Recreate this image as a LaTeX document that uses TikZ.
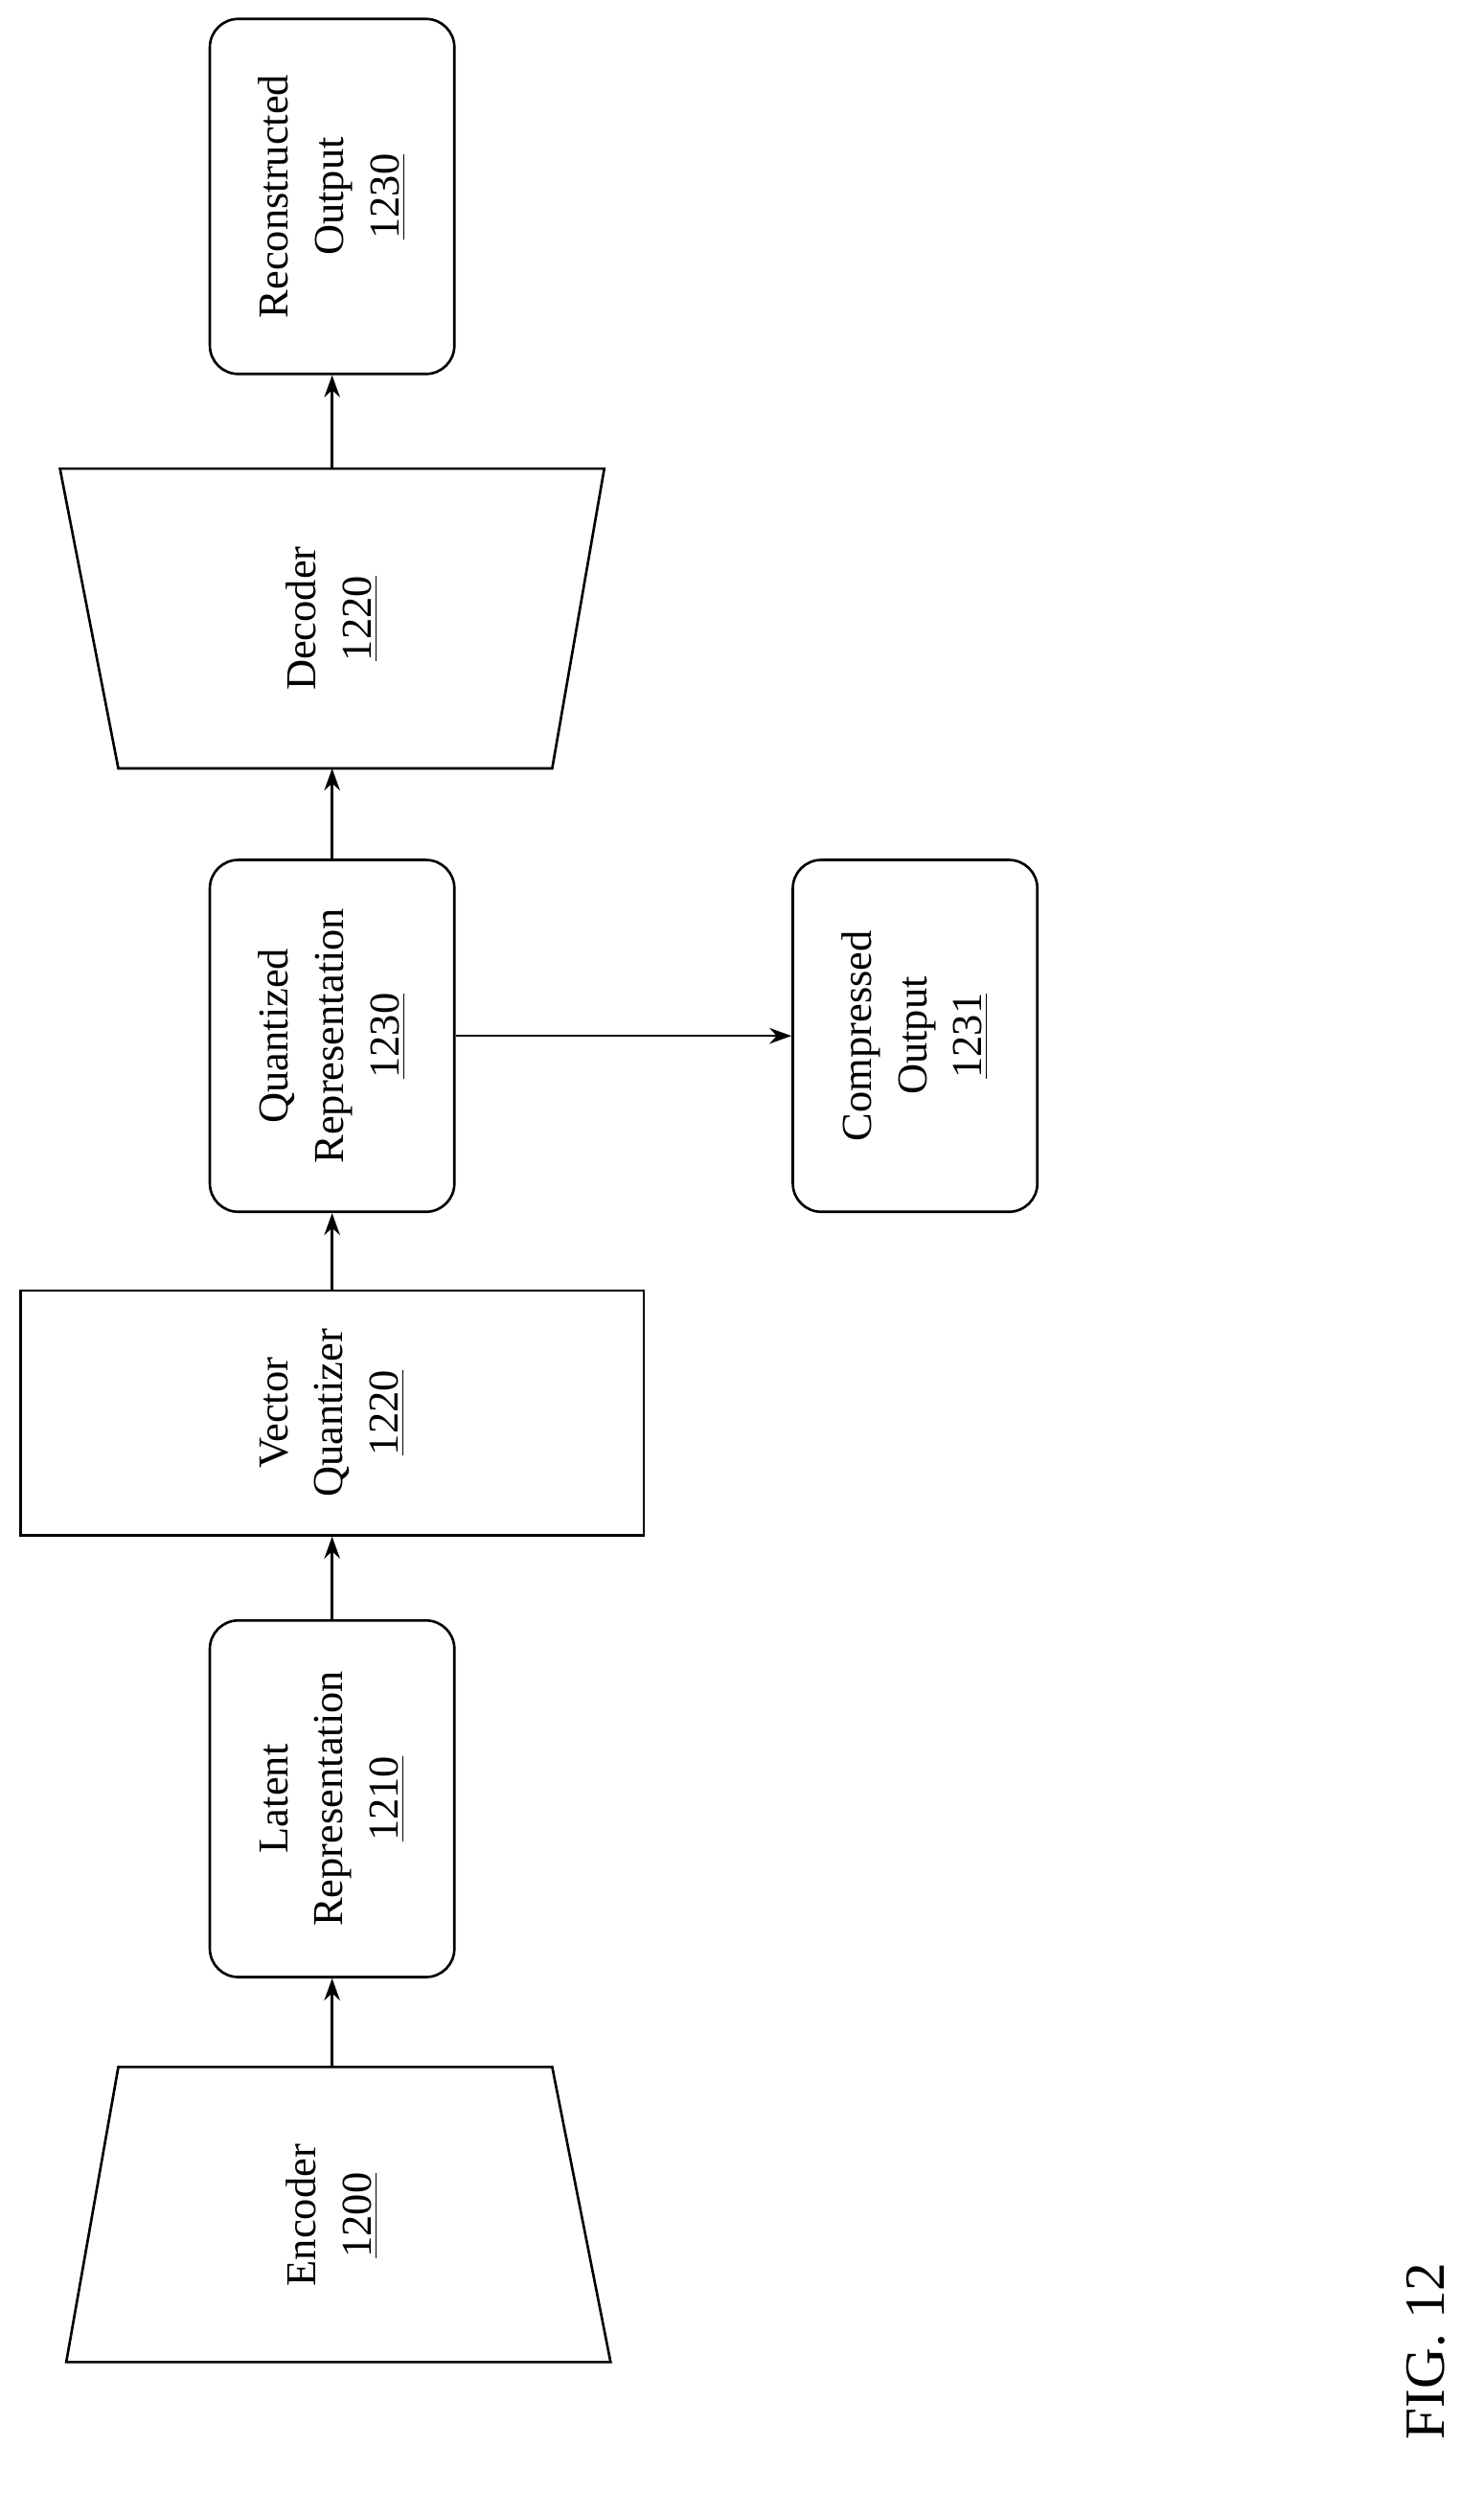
\documentclass[tikz,border=0pt]{standalone}
\usepackage{fontspec}
\setmainfont{Liberation Serif}
\usetikzlibrary{arrows.meta}
\begin{document}
\begin{tikzpicture}[x=1pt,y=1pt,
  box/.style={draw,line width=0.8pt,minimum width=77.5pt,inner sep=0pt},
  rbox/.style={box,rounded corners=9pt},
  txt/.style={rotate=90,align=center,font=\fontsize{13.5}{17.5}\selectfont},
  arr/.style={line width=0.8pt,-{Stealth[length=7pt,width=5pt]}}]
\useasboundingbox (0,0) rectangle (470,-790);
% encoder
\draw[line width=0.8pt] (37.5,-655) -- (175,-655) -- (193.5,-748.5) -- (21,-748.5) -- cycle;
\coordinate (enc) at (105.25,-655);
\node[txt] (enct) at (105.25,-702) {Encoder\\\underline{1200}};
\node[rbox,minimum height=113pt] (lat) at (105.25,-570) {};
\node[txt] at (lat) {Latent\\Representation\\\underline{1210}};
\node[box,minimum width=197.5pt,minimum height=77.5pt] (vq) at (105.25,-447.75) {};
\node[txt] at (vq) {Vector\\Quantizer\\\underline{1220}};
\node[rbox,minimum height=111.5pt] (qr) at (105.25,-328.25) {};
\node[txt] at (qr) {Quantized\\Representation\\\underline{1230}};
\node[rbox,minimum height=111.5pt] (co) at (290,-328.25) {};
\node[txt] at (co) {Compressed\\Output\\\underline{1231}};
% decoder
\draw[line width=0.8pt] (37.5,-243.5) -- (175,-243.5) -- (191.5,-148.5) -- (19,-148.5) -- cycle;
\coordinate (decb) at (105.25,-243.5);
\coordinate (dect) at (105.25,-148.5);
\node[txt] (dec) at (105.25,-196) {Decoder\\\underline{1220}};
\node[rbox,minimum height=112.5pt] (ro) at (105.25,-62.25) {};
\node[txt] at (ro) {Reconstructed\\Output\\\underline{1230}};
\node[rotate=90,font=\fontsize{18}{20}\selectfont] (fig) at (452,-745) {FIG. 12};
\draw[arr] (enc) -- (lat.south);
\draw[arr] (lat.north) -- (vq.south);
\draw[arr] (vq.north) -- (qr.south);
\draw[arr] (qr.east) -- (co.west);
\draw[arr] (qr.north) -- (decb);
\draw[arr] (dect) -- (ro.south);
\end{tikzpicture}
\end{document}
